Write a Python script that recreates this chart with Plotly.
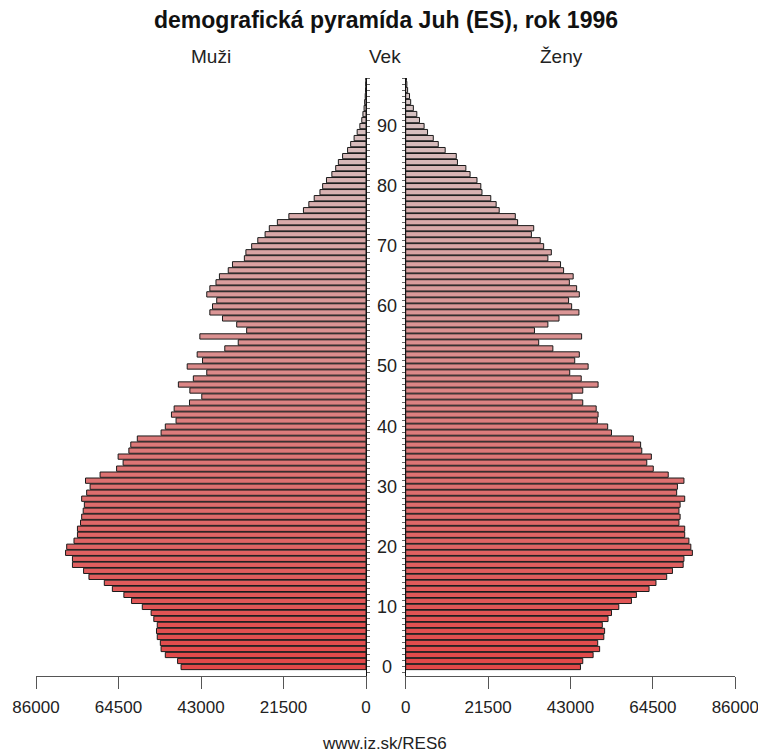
import plotly.graph_objects as go

# The page body has an 8px default margin; design in coordinates shifted by 8px.
OFF = 8
W, H = 766 - OFF, 753 - OFF

ages = list(range(0, 101))
men = [48200, 49100, 52300, 53400, 53600, 54400, 54600, 54400, 55300, 56000,
       58300, 61100, 63100, 66100, 68200, 72200, 73600, 76500, 76500, 78300,
       78000, 76100, 75200, 75200, 74400, 74100, 73700, 73400, 74100, 72800,
       71900, 73100, 69300, 65000, 63300, 64600, 61800, 61300, 59600, 53400,
       52300, 49500, 50700, 50000, 46000, 42800, 45900, 48900, 45000, 41500,
       46600, 42600, 44000, 36800, 33300, 43300, 31100, 33700, 37400, 40700,
       40000, 38900, 41500, 40700, 39100, 38200, 35900, 34800, 31700, 31300,
       29800, 28200, 26300, 25200, 23100, 20100, 16300, 14900, 13500, 12000,
       11300, 10300, 8900, 7900, 7200, 6100, 4800, 4000, 3100, 2300,
       1600, 1100, 800, 500, 350, 200, 120, 70, 40, 20, 10]
women = [45600, 46200, 48900, 50600, 50100, 51700, 51900, 51300, 52800, 53700,
         55600, 58900, 60200, 63500, 65300, 68100, 69600, 72400, 72600, 74800,
         74400, 73900, 72800, 72800, 71300, 71600, 71300, 71600, 72800, 70700,
         70900, 72600, 68500, 64600, 62900, 64100, 61600, 61300, 59400, 53700,
         52700, 50000, 50200, 49700, 46200, 43400, 46200, 50200, 45800, 42800,
         47600, 44100, 45300, 38400, 34700, 45900, 33600, 37100, 40000, 45200,
         43300, 42500, 45300, 44600, 42700, 43700, 41200, 40400, 37100, 38000,
         36000, 35100, 32800, 33400, 29200, 28600, 24400, 23600, 22200, 19900,
         19600, 18600, 16800, 15700, 13500, 13200, 10300, 8500, 7200, 5700,
         4800, 3600, 2900, 2000, 1300, 1000, 500, 300, 200, 100, 50]
x_ticks = [0, 21500, 43000, 64500, 86000]
age_ticks = [0, 10, 20, 30, 40, 50, 60, 70, 80, 90]

title = "demografická pyramída Juh (ES), rok 1996"
label_men, label_age, label_women = "Muži", "Vek", "Ženy"
source = "www.iz.sk/RES6"


def col(a):
    t = min(a, 95) / 95.0
    r = round(226 + (214 - 226) * t)
    g = round(72 + (198 - 72) * t)
    b = round(72 + (198 - 72) * t)
    return f"rgb({r},{g},{b})"


colors = [col(a) for a in ages]
FONT = "Liberation Sans, Arial, sans-serif"

fig = go.Figure()
fig.add_trace(go.Bar(x=men, y=ages, orientation="h", xaxis="x", yaxis="y",
                     marker=dict(color=colors, line=dict(color="#1a1a1a", width=1)),
                     showlegend=False))
fig.add_trace(go.Bar(x=women, y=ages, orientation="h", xaxis="x2", yaxis="y2",
                     marker=dict(color=colors, line=dict(color="#1a1a1a", width=1)),
                     showlegend=False))

def px(x):
    return (x - OFF) / W

TOP, BOT = 78 - OFF, 676 - OFF  # plot area in design pixels
PH = BOT - TOP

def py(y):
    return (BOT - (y - OFF)) / PH

L0, L1 = px(36), px(366)
R0, R1 = px(405.7), px(735.3)
yr = [-1.5, 98]

xcommon = dict(tickvals=x_ticks, ticktext=[str(v) for v in x_ticks], ticks="outside",
               ticklen=12, tickcolor="#555", showline=True, linecolor="#555", linewidth=1,
               showgrid=False, zeroline=False, automargin=False, ticklabelstandoff=4,
               tickfont=dict(size=17, color="#222", family=FONT))
ycommon = dict(range=yr, showline=True, linecolor="#111", linewidth=1, ticks="outside",
               ticklen=3, tickcolor="#666", dtick=1, tick0=0, showticklabels=False,
               showgrid=False, zeroline=False, automargin=False)
fig.update_layout(
    xaxis=dict(domain=[L0, L1], range=[86000, 0], anchor="y", **xcommon),
    xaxis2=dict(domain=[R0, R1], range=[0, 86000], anchor="y2", **xcommon),
    yaxis=dict(side="right", anchor="x", **ycommon),
    yaxis2=dict(side="left", anchor="x2", **ycommon),
    bargap=0.12,
    width=W, height=H,
    margin=dict(l=0, r=0, t=TOP, b=H - BOT, autoexpand=False),
    plot_bgcolor="white", paper_bgcolor="white",
    font=dict(family=FONT, color="#222"),
)

ann = []
for a in age_ticks:
    ann.append(dict(x=px(387), xref="paper", y=a, yref="y", text=str(a), showarrow=False,
                    xanchor="center", yanchor="middle", font=dict(size=18, color="#222", family=FONT)))
ann.append(dict(x=px(386), y=py(20), xref="paper", yref="paper", text=f"<b>{title}</b>",
                showarrow=False, xanchor="center", yanchor="middle",
                font=dict(size=23, color="#111", family=FONT)))
for txt, xx in [(label_men, 211), (label_age, 385), (label_women, 561)]:
    ann.append(dict(x=px(xx), y=py(57), xref="paper", yref="paper", text=txt,
                    showarrow=False, xanchor="center", yanchor="middle",
                    font=dict(size=19, color="#222", family=FONT)))
ann.append(dict(x=px(384), y=py(743), xref="paper", yref="paper", text=source,
                showarrow=False, xanchor="center", yanchor="middle",
                font=dict(size=17, color="#222", family=FONT)))
fig.update_layout(annotations=ann)

fig.write_html("out.html")
